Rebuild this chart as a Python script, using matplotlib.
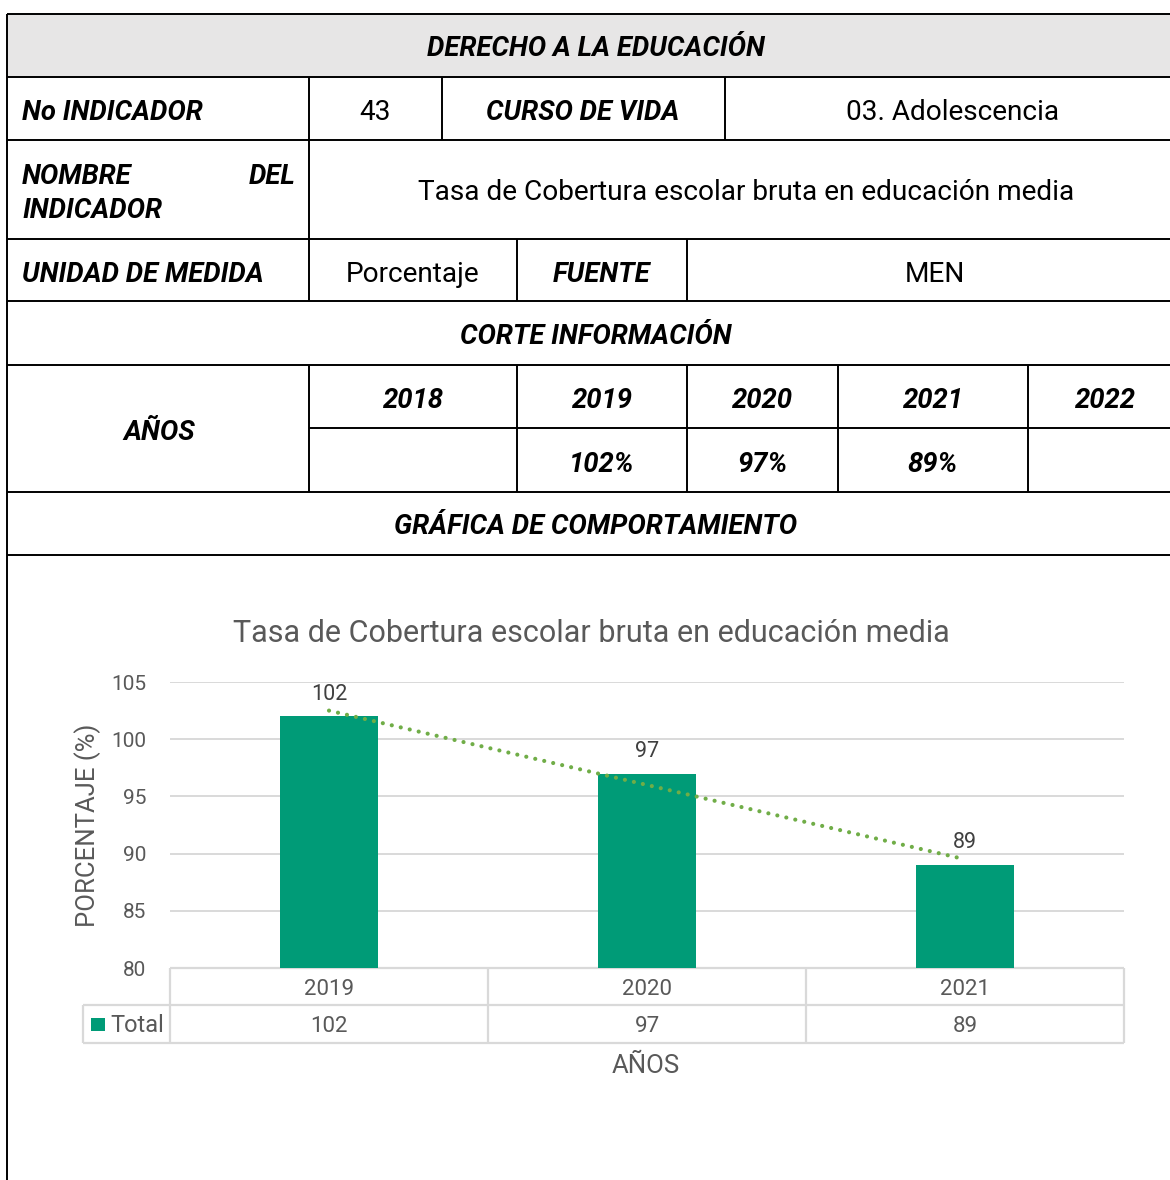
import numpy as np
import matplotlib
matplotlib.use("Agg")
import matplotlib.pyplot as plt
from matplotlib import transforms
from matplotlib.patches import Rectangle

plt.rcParams['font.family'] = ['Roboto', 'DejaVu Sans']

# ---------------- data ----------------
header_title = "DERECHO A LA EDUCACIÓN"
indicator_no = "43"
life_course = "03. Adolescencia"
indicator_name = "Tasa de Cobertura escolar bruta en educación media"
unit = "Porcentaje"
source = "MEN"
table_years = ["2018", "2019", "2020", "2021", "2022"]
table_values = ["", "102%", "97%", "89%", ""]
chart_years = ["2019", "2020", "2021"]
chart_values = [102, 97, 89]
series_name = "Total"

# ---------------- styles ----------------
W, H = 1170, 1180
BLACK = "#000000"
GRAY_TXT = "#595959"
GRID = "#d9d9d9"
BAR = "#009B77"
TREND = "#70AD47"
HEAD_FILL = "#e7e6e6"
FS_BOLD = 19.8
FS_REG = 20.2

fig = plt.figure(figsize=(W / 100, H / 100), dpi=100)
bg = fig.add_axes([0, 0, 1, 1])
bg.set_xlim(0, W)
bg.set_ylim(H, 0)
bg.axis('off')

LW = 1.4


def hline(y, x0, x1=W):
    bg.plot([x0, x1], [y, y], color=BLACK, lw=LW, solid_capstyle='butt')


def vline(x, y0, y1):
    bg.plot([x, x], [y0, y1], color=BLACK, lw=LW, solid_capstyle='butt')


def txt(x, y, s, bold=True, ha='center'):
    bg.text(x, y + 2, s, ha=ha, va='center', fontsize=FS_BOLD if bold else FS_REG,
            fontweight='bold' if bold else 'normal',
            fontstyle='italic' if bold else 'normal', color=BLACK)


# header fill
bg.add_patch(Rectangle((7, 14), W - 7, 63, facecolor=HEAD_FILL, edgecolor='none'))

# horizontal lines
for y in [14, 77, 140, 239, 301, 365, 492, 555]:
    hline(y, 7)
hline(428, 309)
vline(7, 14, H)
# vertical lines per row
for x in [309, 442, 725]:
    vline(x, 77, 140)
vline(309, 140, 239)
for x in [309, 517, 687]:
    vline(x, 239, 301)
for x in [309, 517, 687, 838, 1028]:
    vline(x, 365, 492)

# texts
txt(596, 46, header_title)
txt(22, 110, "No INDICADOR", ha='left')
txt(375, 110, indicator_no, bold=False)
txt(583, 110, "CURSO DE VIDA")
txt(953, 110, life_course, bold=False)
txt(22, 174, "NOMBRE", ha='left')
txt(296, 174, "DEL", ha='right')
txt(22, 209, "INDICADOR", ha='left')
txt(746, 191, indicator_name, bold=False)
txt(22, 272, "UNIDAD DE MEDIDA", ha='left')
txt(413, 272, unit, bold=False)
txt(602, 272, "FUENTE")
txt(935, 272, source, bold=False)
txt(596, 334, "CORTE INFORMACIÓN")
txt(159, 430, "AÑOS")
col_centers = [413, 602, 762, 933, 1105]
for cx, yr, val in zip(col_centers, table_years, table_values):
    txt(cx, 398, yr)
    if val:
        txt(cx, 462, val)
txt(596, 524, "GRÁFICA DE COMPORTAMIENTO")

# ---------------- chart ----------------
ax_l, ax_r, ax_top, ax_bot = 170, 1124, 682, 968
ax = fig.add_axes([ax_l / W, (H - ax_bot) / H, (ax_r - ax_l) / W, (ax_bot - ax_top) / H])
x = np.arange(len(chart_years))
ax.bar(x, chart_values, width=0.31, color=BAR, zorder=3)
ax.set_xlim(-0.5, len(chart_years) - 0.5)
ax.set_ylim(80, 105)
ax.set_yticks(np.arange(80, 106, 5))
ax.set_xticks([])
ax.tick_params(axis='y', length=0, pad=17, labelsize=15, labelcolor=GRAY_TXT)
for s in ax.spines.values():
    s.set_visible(False)
ax.grid(axis='y', color=GRID, lw=1.4, zorder=0)
ax.set_axisbelow(True)

for xi, v in zip(x, chart_values):
    ax.annotate(str(v), (xi, v), xytext=(0, 16), textcoords='offset points',
                ha='center', va='center', fontsize=15.5, color="#404040", zorder=5)

coef = np.polyfit(x, chart_values, 1)
ax.plot(x, np.polyval(coef, x), color=TREND, lw=3.0, linestyle=(0, (0.01, 2.2)),
        dash_capstyle='round', zorder=4)

# data table under chart
axh = ax_bot - ax_top
r1 = -37 / axh
r2 = -75 / axh
leg_left = (83 - ax_l) / (ax_r - ax_l)
tbl_kw = dict(color=GRID, lw=1.6, clip_on=False, solid_capstyle='butt')
ax.plot([0, 1], [0, 0], transform=ax.transAxes, **tbl_kw)
ax.plot([leg_left, 1], [r1, r1], transform=ax.transAxes, **tbl_kw)
ax.plot([leg_left, 1], [r2, r2], transform=ax.transAxes, **tbl_kw)
ax.plot([leg_left, leg_left], [r1, r2], transform=ax.transAxes, **tbl_kw)
blend = transforms.blended_transform_factory(ax.transData, ax.transAxes)
for b in np.arange(-0.5, len(chart_years), 1.0):
    ax.plot([b, b], [0, r2], transform=blend, **tbl_kw)
dy = -3 / axh
for xi, yr, v in zip(x, chart_years, chart_values):
    ax.text(xi, r1 / 2 + dy, yr, transform=blend, ha='center', va='center',
            fontsize=16, color=GRAY_TXT)
    ax.text(xi, (r1 + r2) / 2 + dy * 0.7, str(v), transform=blend, ha='center', va='center',
            fontsize=16, color=GRAY_TXT)

# legend key in data table
bg.add_patch(Rectangle((91, 1018), 14, 13, facecolor=BAR, edgecolor='none'))
bg.text(110, 1026, series_name, ha='left', va='center', fontsize=17, color=GRAY_TXT)

# titles / axis labels
bg.text(591, 634, indicator_name, ha='center', va='center', fontsize=22, color=GRAY_TXT)
bg.text(88, 825, "PORCENTAJE (%)", ha='center', va='center', rotation=90,
        fontsize=18.5, color=GRAY_TXT)
bg.text(646, 1066, "AÑOS", ha='center', va='center', fontsize=18.5, color=GRAY_TXT)

fig.savefig("out.png", dpi=100)
